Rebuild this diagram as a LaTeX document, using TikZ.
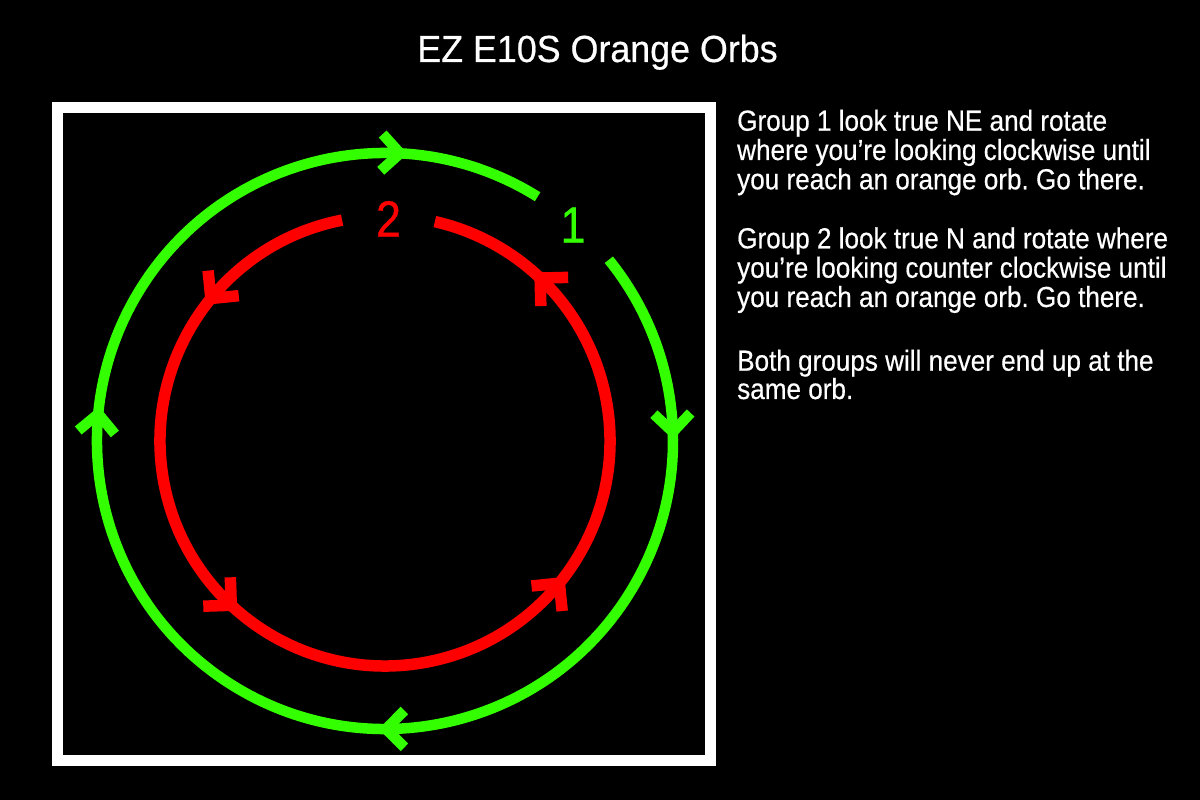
\documentclass[tikz,border=0pt]{standalone}
\usepackage{fontspec}
\setmainfont{Liberation Sans}
\newfontfamily\bodyfont{Liberation Sans}[FakeStretch=0.9,FakeBold=0.5]
\newfontfamily\titlefont{Liberation Sans}[FakeStretch=0.95,FakeBold=0.5]
\newfontfamily\numfont{Liberation Sans}[FakeStretch=0.88,FakeBold=0.6]
\frenchspacing
\definecolor{orbgreen}{RGB}{51,255,0}
\definecolor{orbred}{RGB}{255,0,0}
\tikzset{
  greenline/.style={draw=orbgreen, line width=10.5pt, line join=miter, line cap=butt},
  redline/.style={draw=orbred, line width=11.5pt, line join=miter, line cap=butt},
  frameline/.style={draw=white, line width=10.7pt},
  bodytext/.style={text=white, inner sep=0pt, anchor=base west, font=\bodyfont\fontsize{29}{29}\selectfont},
  titletext/.style={text=white, inner sep=0pt, anchor=base, font=\titlefont\fontsize{37.7}{37.7}\selectfont},
  numtext/.style={inner sep=0pt, anchor=base, font=\numfont\fontsize{51}{51}\selectfont}
}
\begin{document}
\begin{tikzpicture}[x=1pt,y=1pt]
\fill[black] (0,0) rectangle (1200,800);
\useasboundingbox (0,0) rectangle (1200,800);
% frame
\draw[frameline] (57.3,39.7) rectangle (710.5,692.7);
\coordinate (C) at (385,359);
% green outer circle (clockwise), gap near label 1
\draw[greenline] (C) ++(58:288) arc[start angle=58, end angle=399, radius=288];
\foreach \a in {87,1.8,270.2,174.6}
  \draw[greenline] (C) ++(\a:288) ++(\a+45:26) -- ++(\a+225:26) -- ++(\a+135:26);
% red inner circle (counter clockwise), gap near label 2
\draw[redline] (C) ++(101:225) arc[start angle=101, end angle=437.2, radius=225];
\foreach \a in {46.4,140.7,226.9,320.8}
  \draw[redline] (C) ++(\a:225) ++(\a-45:28) -- ++(\a+135:28) -- ++(\a-135:28);
% labels
\node[numtext, text=orbgreen] (one) at (573,557.3) {1};
\node[numtext, text=orbred] (two) at (388.5,563.3) {2};
% title
\node[titletext] (title) at (597.5,738) {EZ E10S Orange Orbs};
% description
\node[bodytext] (t1) at (737,669.3) {Group 1 look true NE and rotate};
\node[bodytext] (t2) at (737,640) {where you’re looking clockwise until};
\node[bodytext] (t3) at (737,610.7) {you reach an orange orb. Go there.};
\node[bodytext] (t4) at (737,551.7) {Group 2 look true N and rotate where};
\node[bodytext] (t5) at (737,522.3) {you’re looking counter clockwise until};
\node[bodytext] (t6) at (737,493) {you reach an orange orb. Go there.};
\node[bodytext] (t7) at (737,429.3) {Both groups will never end up at the};
\node[bodytext] (t8) at (737,401) {same orb.};
\end{tikzpicture}
\end{document}
